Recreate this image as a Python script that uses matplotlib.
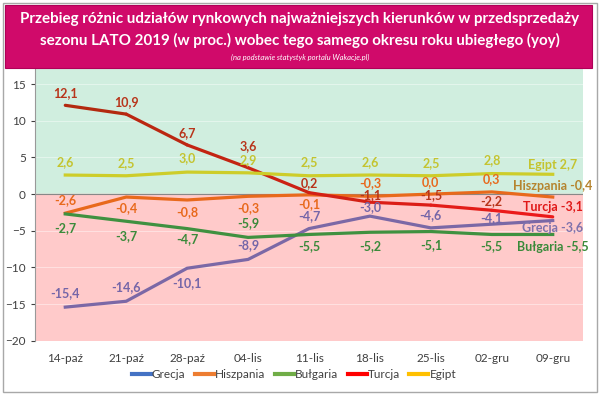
import numpy as np
import matplotlib.pyplot as plt
from matplotlib.patches import Rectangle
from matplotlib.lines import Line2D

plt.rcParams['font.family'] = ['Lato', 'DejaVu Sans']

weeks = ['14-paź', '21-paź', '28-paź', '04-lis', '11-lis', '18-lis', '25-lis', '02-gru', '09-gru']
grecja = [-15.4, -14.6, -10.1, -8.9, -4.7, -3.0, -4.6, -4.1, -3.6]
hiszpania = [-2.6, -0.4, -0.8, -0.3, -0.1, -0.3, 0.0, 0.3, -0.4]
bulgaria = [-2.7, -3.7, -4.7, -5.9, -5.5, -5.2, -5.1, -5.5, -5.5]
turcja = [12.1, 10.9, 6.7, 3.6, 0.2, -1.1, -1.5, -2.2, -3.1]
egipt = [2.6, 2.5, 3.0, 2.9, 2.5, 2.6, 2.5, 2.8, 2.7]
names = ['Grecja', 'Hiszpania', 'Bułgaria', 'Turcja', 'Egipt']

# vertical shift of each data label (pixels, + is up)
off_gr = [14, 14, -15, 14, 13, 9, 13, 6, -7]
off_hi = [13, -11, -12, -12, -9, 13, 12, 13, 11]
off_bu = [-14, -15, -10, 14, -12, -14, -14, -12, -13]
off_tu = [12, 12, 12, 22, 10, 7, 10, 9, 10]
off_eg = [13, 13, 14, 13, 14, 13, 13, 13, 9]

series = [
    (grecja, '#7b68a6', '#7566a8', '#7f72ac', off_gr),
    (hiszpania, '#e8691c', '#e8691c', '#b5842e', off_hi),
    (bulgaria, '#3f9140', '#3a8a3a', '#3a8a3a', off_bu),
    (turcja, None, '#b8341a', '#e01818', off_tu),
    (egipt, '#cdcd2a', '#c4c430', '#c4c430', off_eg),
]
legend_colors = ['#4472c4', '#ed7d31', '#70ad47', '#ff0000', '#ffc000']

fig = plt.figure(figsize=(6, 3.95), dpi=100)
fig.patches.append(Rectangle((0.005, 0.008), 0.99, 0.985, transform=fig.transFigure,
                             facecolor='white', edgecolor='#a8a8a8', lw=1, zorder=-5))
fig.patches.append(Rectangle((0.008, 0.828), 0.979, 0.16, transform=fig.transFigure,
                             facecolor='#d00a6a', edgecolor='#b00058', lw=0.8, zorder=3))
fig.text(0.5, 0.952, 'Przebieg różnic udziałów rynkowych najważniejszych kierunków w przedsprzedaży',
         ha='center', va='center', color='white', fontsize=10.9, fontweight='bold', zorder=4)
fig.text(0.5, 0.897, 'sezonu LATO 2019 (w proc.) wobec tego samego okresu roku ubiegłego (yoy)',
         ha='center', va='center', color='white', fontsize=10.9, fontweight='bold', zorder=4)
fig.text(0.5, 0.855, '(na podstawie statystyk portalu Wakacje.pl)', ha='center', va='center',
         color='white', fontsize=5.5, style='italic', zorder=4)

ax = fig.add_axes([0.058, 0.137, 0.914, 0.693])
ax.set_xlim(-0.5, 8.5)
ax.set_ylim(-20, 17.3)
ax.axhspan(0, 17.3, color='#d0eedf', zorder=0)
ax.axhspan(-20, 0, color='#ffcaca', zorder=0)
for y in [-15, -10, -5, 5, 10, 15]:
    ax.axhline(y, color='white', lw=0.6, alpha=0.5, zorder=0.5)
ax.axhline(0, color='#888888', lw=0.8, zorder=1)

x = np.arange(len(weeks))
for (vals, col, lcol, endcol, offs), name in zip(series, names):
    if col is None:
        # Turcja goes from dark red to bright red
        c0 = np.array([0.70, 0.16, 0.06])
        c1 = np.array([0.92, 0.10, 0.10])
        for i in range(len(vals) - 1):
            t = i / (len(vals) - 2)
            ax.plot(x[i:i + 2], vals[i:i + 2], color=c0 + (c1 - c0) * t, lw=2.3,
                    solid_capstyle='round', zorder=3)
    else:
        ax.plot(x, vals, color=col, lw=2.3, zorder=3)
    for i, v in enumerate(vals):
        txt = f'{v:.1f}'.replace('.', ',')
        c = lcol
        if i == len(vals) - 1:
            txt = f'{name} {txt}'
            c = endcol
        ax.annotate(txt, (x[i], v), xytext=(0, offs[i] * 0.72), textcoords='offset points',
                    ha='center', va='center', color=c, fontsize=9, fontweight='bold', zorder=5)

ax.set_xticks(x)
ax.set_xticklabels(weeks)
ax.set_yticks([-20, -15, -10, -5, 0, 5, 10, 15])
ax.tick_params(axis='both', labelsize=8.5, colors='#404040', length=3)
ax.tick_params(axis='x', length=0, pad=9)
for s in ['top', 'right', 'bottom']:
    ax.spines[s].set_visible(False)
ax.spines['left'].set_color('#999999')

handles = [Line2D([], [], color=c, lw=3) for c in legend_colors]
fig.legend(handles, names, loc='center', bbox_to_anchor=(0.49, 0.052), ncol=5, frameon=False,
           fontsize=8.5, handlelength=1.6, handletextpad=0.1, columnspacing=0.8,
           labelcolor='#404040')

fig.savefig('out.png', dpi=100)
